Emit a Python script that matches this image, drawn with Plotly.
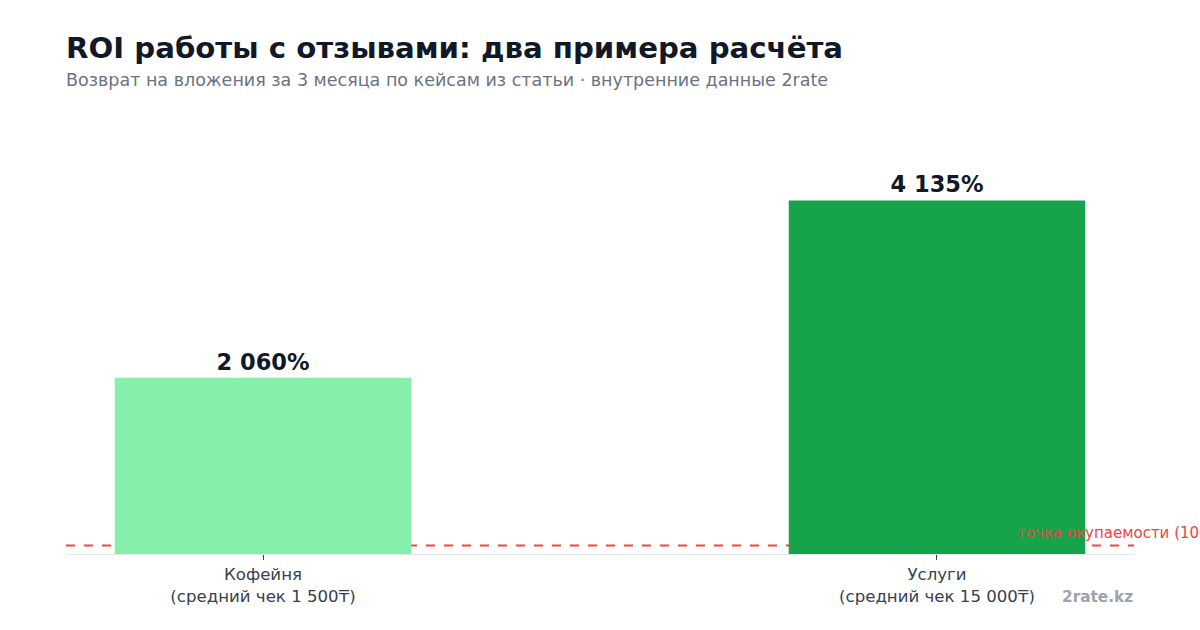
import plotly.graph_objects as go

categories = ["Кофейня<br>(средний чек 1 500₸)", "Услуги<br>(средний чек 15 000₸)"]
roi_values = [2060, 4135]
value_labels = ["2 060%", "4 135%"]
bar_colors = ["#86efac", "#16a34a"]
breakeven = 100
title_text = "ROI работы с отзывами: два примера расчёта"
subtitle_text = "Возврат на вложения за 3 месяца по кейсам из статьи · внутренние данные 2rate"
breakeven_label = "точка окупаемости (100%)"
watermark = "2rate.kz"

FONT = "DejaVu Sans"

fig = go.Figure()
fig.add_trace(go.Bar(
    x=[0, 1],
    y=roi_values,
    width=0.44,
    marker=dict(color=bar_colors, line=dict(width=0)),
    text=value_labels,
    textposition="outside",
    textfont=dict(family=FONT, size=22.5, color="#111827", weight="bold"),
    cliponaxis=False,
    hoverinfo="skip",
))

fig.add_shape(type="line", xref="paper", yref="y", x0=0, x1=1, y0=breakeven, y1=breakeven,
              line=dict(color="#ef4444", width=2, dash="dash"), layer="below")

fig.add_annotation(xref="paper", yref="y", x=0.891, y=breakeven, xanchor="left", yanchor="bottom",
                   xshift=-3, yshift=1, text=breakeven_label, showarrow=False,
                   font=dict(family=FONT, size=15, color="#ef4444"))

fig.add_annotation(xref="paper", yref="paper", x=0, y=1, xanchor="left", yanchor="middle",
                   xshift=-2, yshift=(147 - 48), text=f"<b>{title_text}</b>", showarrow=False,
                   font=dict(family=FONT, size=29.2, color="#111827"))
fig.add_annotation(xref="paper", yref="paper", x=0, y=1, xanchor="left", yanchor="middle",
                   xshift=-2, yshift=(147 - 80), text=subtitle_text, showarrow=False,
                   font=dict(family=FONT, size=17.5, color="#6b7280"))
fig.add_annotation(xref="paper", yref="paper", x=1, y=0, xanchor="right", yanchor="middle",
                   xshift=1, yshift=-(597 - 554), text=f"<b>{watermark}</b>", showarrow=False,
                   font=dict(family=FONT, size=15.3, color="#9ca3af"))

fig.update_layout(
    width=1200, height=630,
    margin=dict(l=66, r=66, t=147, b=76),
    paper_bgcolor="white", plot_bgcolor="white",
    showlegend=False,
    font=dict(family=FONT),
    xaxis=dict(
        range=[-0.2923, 1.2923],
        tickmode="array", tickvals=[0, 1], ticktext=categories,
        showline=True, linecolor="#e5e7eb", linewidth=1,
        ticks="outside", ticklen=5, tickcolor="#374151", tickwidth=1,
        tickfont=dict(family=FONT, size=16.6, color="#374151"),
        showgrid=False, zeroline=False, fixedrange=True,
    ),
    yaxis=dict(
        range=[0, 4760],
        showticklabels=False, showgrid=False, zeroline=False, showline=False,
        fixedrange=True,
    ),
)

fig.write_html("out.html")
